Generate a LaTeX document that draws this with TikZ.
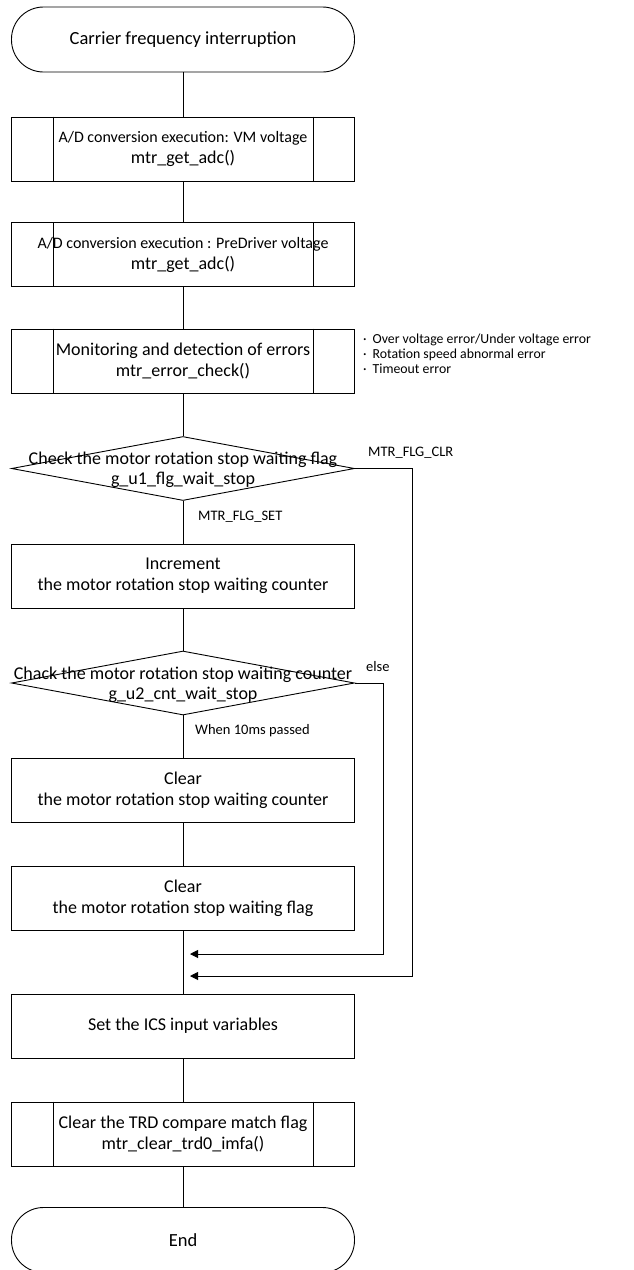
\documentclass[tikz,border=0pt]{standalone}
\usepackage{fontspec}
\setmainfont{Carlito}
\usepackage{tikz}
\usetikzlibrary{arrows.meta,shapes,calc}

\begin{document}
\begin{tikzpicture}[x=1pt,y=-1pt]
\tikzset{
	term node/.style = {rectangle, draw, rounded corners = 32pt, minimum width = 343pt, minimum height = 65pt, line width = 0.9pt, font = \fontsize{18.5}{22}\selectfont},
	proc node/.style = {rectangle, draw, minimum width = 343pt, minimum height = 64pt, line width = 0.9pt, align = center, font = \fontsize{18}{21}\selectfont},
	sub node/.style = {proc node},
	dec node/.style = {diamond, draw, minimum width = 343pt, minimum height = 64pt, inner sep = 0, line width = 0.9pt},
	dec text/.style = {align = center, inner sep = 0, font = \fontsize{18}{20}\selectfont},
	edge text/.style = {anchor = west, inner sep = 0, font = \fontsize{14.5}{17}\selectfont},
	note text/.style = {anchor = west, inner sep = 0, align = left, font = \fontsize{13.8}{15}\selectfont},
	flow/.style = {line width = 0.9pt},
	back/.style = {flow, -{Triangle[length = 8pt, width = 8pt]}}
}
\useasboundingbox (0,0) rectangle (633,1270);

% main column
\node (start)[term node] at (183,39.5) {Carrier frequency interruption};
\node (adc1)[sub node] at (183,149) {{\fontsize{16}{20}\selectfont A/D conversion execution: VM voltage}\\mtr\_get\_adc()};
\node (adc2)[sub node] at (183,254.5) {{\fontsize{16}{20}\selectfont A/D conversion execution : PreDriver voltage}\\mtr\_get\_adc()};
\node (errchk)[sub node] at (183,361) {Monitoring and detection of errors\\mtr\_error\_check()};
\node (chkflg)[dec node] at (183,468.5) {};
\node (chkflgt)[dec text] at (183,470) {Check the motor rotation stop waiting flag\\g\_u1\_flg\_wait\_stop};
\node (inc)[proc node] at (183,576) {Increment\\the motor rotation stop waiting counter};
\node (chkcnt)[dec node] at (183,683) {};
\node (chkcntt)[dec text] at (183,684.5) {Chack the motor rotation stop waiting counter\\g\_u2\_cnt\_wait\_stop};
\node (clrcnt)[proc node] at (183,790) {Clear\\the motor rotation stop waiting counter};
\node (clrflg)[proc node] at (183,898) {Clear\\the motor rotation stop waiting flag};
\node (setics)[proc node] at (183,1026) {Set the ICS input variables};
\node (trdclr)[sub node] at (183,1134) {Clear the TRD compare match flag\\mtr\_clear\_trd0\_imfa()};
\node (stop)[term node] at (183,1240) {End};

% side lines of the sub process boxes
\foreach \n in {adc1,adc2,errchk,trdclr}{
	\draw[flow] ([xshift=42pt]\n.north west) -- ([xshift=42pt]\n.south west);
	\draw[flow] ([xshift=-42pt]\n.north east) -- ([xshift=-42pt]\n.south east);
}

% notes and branch labels
\node (errlist)[note text] at (363,354) {·\hspace{6pt}Over voltage error/Under voltage error\\·\hspace{6pt}Rotation speed abnormal error\\·\hspace{6pt}Timeout error};
\node (lblclr)[edge text] at (368,453) {MTR\_FLG\_CLR};
\node (lblset)[edge text] at (198,517) {MTR\_FLG\_SET};
\node (lblelse)[edge text] at (366,667) {else};
\node (lblten)[edge text] at (195,731) {When 10ms passed};

\coordinate (j1) at (190,954);
\coordinate (j2) at (190,976);

% connectors
\draw[flow] (start) -- (adc1);
\draw[flow] (adc1) -- (adc2);
\draw[flow] (adc2) -- (errchk);
\draw[flow] (errchk) -- (chkflg);
\draw[flow] (chkflg) -- (inc);
\draw[flow] (inc) -- (chkcnt);
\draw[flow] (chkcnt) -- (clrcnt);
\draw[flow] (clrcnt) -- (clrflg);
\draw[flow] (clrflg) -- (setics);
\draw[flow] (setics) -- (trdclr);
\draw[flow] (trdclr) -- (stop);
\draw[back] (chkflg.east) -| ($(j2)+(222,0)$) -- (j2);
\draw[back] (chkcnt.east) -| ($(j1)+(193,0)$) -- (j1);
\end{tikzpicture}
\end{document}
